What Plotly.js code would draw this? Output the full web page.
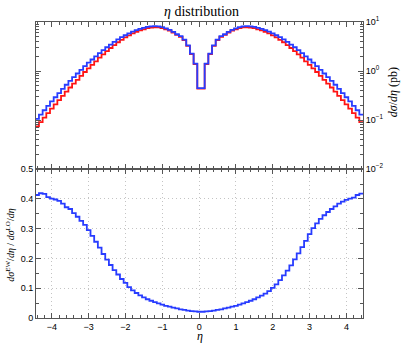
<!DOCTYPE html>
<html>
<head>
<meta charset="utf-8">
<script src="https://cdn.plot.ly/plotly-3.0.1.min.js"></script>
<style>
  html, body { margin: 0; padding: 0; background: #fff; }
  #chart { width: 403px; height: 343px; }
</style>
</head>
<body>
<div id="chart"></div>
<script>
// bins: 0.1 wide, centres -4.4 ... 4.4
const etaFirstEdge = -4.45;
const binWidth = 0.1;

// dsigma/deta LO (pb), one value per bin, left to right
const sigmaLO = [
  0.0746, 0.0908, 0.1121, 0.1384, 0.1709, 0.2087, 0.2551, 0.3118, 0.3815, 0.4615,
  0.553, 0.663, 0.795, 0.955, 1.136, 1.34, 1.58, 1.87, 2.18, 2.55,
  2.95, 3.39, 3.86, 4.34, 4.84, 5.36, 5.87, 6.33, 6.74, 7.10,
  7.47, 7.68, 7.81, 7.75, 7.52, 7.12, 6.66, 6.10, 5.45, 4.99,
  4.25, 3.27, 2.22, 1.39, 0.438,
  0.438, 1.39, 2.22, 3.27, 4.25, 4.99, 5.45, 6.10, 6.66, 7.12,
  7.52, 7.75, 7.81, 7.68, 7.47, 7.10, 6.74, 6.33, 5.87, 5.36,
  4.84, 4.34, 3.86, 3.39, 2.95, 2.55, 2.18, 1.87, 1.58, 1.34,
  1.136, 0.955, 0.795, 0.663, 0.553, 0.4615, 0.3815, 0.3118, 0.2551, 0.2087,
  0.1709, 0.1384, 0.1121, 0.0908
];

// dsigma/deta LO + EW (pb)
const sigmaEW = [
  0.106, 0.129, 0.1585, 0.195, 0.240, 0.292, 0.355, 0.432, 0.525, 0.631,
  0.750, 0.891, 1.059, 1.259, 1.479, 1.718, 1.995, 2.317, 2.661, 3.055,
  3.467, 3.936, 4.416, 4.898, 5.370, 5.888, 6.383, 6.839, 7.244, 7.586,
  7.943, 8.128, 8.222, 8.128, 7.852, 7.413, 6.918, 6.310, 5.623, 5.129,
  4.365, 3.350, 2.270, 1.422, 0.447,
  0.447, 1.422, 2.270, 3.350, 4.365, 5.129, 5.623, 6.310, 6.918, 7.413,
  7.852, 8.128, 8.222, 8.128, 7.943, 7.586, 7.244, 6.839, 6.383, 5.888,
  5.370, 4.898, 4.416, 3.936, 3.467, 3.055, 2.661, 2.317, 1.995, 1.718,
  1.479, 1.259, 1.059, 0.891, 0.750, 0.631, 0.525, 0.432, 0.355, 0.292,
  0.240, 0.195, 0.1585, 0.129
];

// ratio EW / LO
const ratioEW = [
  0.413, 0.419, 0.417, 0.406, 0.401, 0.398, 0.393, 0.384, 0.372, 0.366,
  0.352, 0.340, 0.326, 0.313, 0.295, 0.276, 0.256, 0.236, 0.215, 0.196,
  0.178, 0.161, 0.146, 0.131, 0.118, 0.104, 0.093, 0.084, 0.076, 0.069,
  0.063, 0.058, 0.053, 0.049, 0.045, 0.041, 0.038, 0.035, 0.032, 0.029,
  0.027, 0.025, 0.023, 0.022, 0.021,
  0.021, 0.022, 0.023, 0.025, 0.027, 0.029, 0.032, 0.035, 0.038, 0.041,
  0.045, 0.049, 0.053, 0.058, 0.063, 0.069, 0.075, 0.082, 0.090, 0.101,
  0.113, 0.127, 0.143, 0.159, 0.177, 0.197, 0.217, 0.238, 0.259, 0.282,
  0.302, 0.318, 0.333, 0.345, 0.356, 0.366, 0.375, 0.384, 0.391, 0.397,
  0.401, 0.404, 0.413, 0.418
];

const xTicks = [-4, -3, -2, -1, 0, 1, 2, 3, 4];
const ratioTicks = [0, 0.1, 0.2, 0.3, 0.4, 0.5];
const ratioTickText = ['0', '0.1', '0.2', '0.3', '0.4', '0.5'];
const logTicks = [0.01, 0.1, 1, 10];
const logTickText = ['10<sup>−2</sup>', '10<sup>−1</sup>', '10<sup>0</sup>', '10<sup>1</sup>'];

const BLUE = 'rgb(40,60,255)';
const RED = 'rgb(255,20,20)';
const AXIS = '#555';
const GRID = '#c4c4c4';
const SERIF = 'Liberation Serif, Times New Roman, serif';

// histogram as hv steps over bin edges
function steps(vals) {
  const x = [], y = [];
  vals.forEach((v, i) => {
    x.push(+(etaFirstEdge + i * binWidth).toFixed(2));
    y.push(v);
  });
  x.push(+(etaFirstEdge + vals.length * binWidth).toFixed(2));
  y.push(vals[vals.length - 1]);
  return { x, y };
}

const minorLog = [];
[0.01, 0.1, 1].forEach(d => { for (let k = 2; k <= 9; k++) minorLog.push(d * k); });

const lo = steps(sigmaLO), ew = steps(sigmaEW), rt = steps(ratioEW);

const traces = [
  { x: lo.x, y: lo.y, xaxis: 'x2', yaxis: 'y2', mode: 'lines',
    line: { shape: 'hv', color: RED, width: 1.8 } },
  { x: ew.x, y: ew.y, xaxis: 'x2', yaxis: 'y2', mode: 'lines',
    line: { shape: 'hv', color: BLUE, width: 1.8 } },
  { x: rt.x, y: rt.y, xaxis: 'x', yaxis: 'y', mode: 'lines',
    line: { shape: 'hv', color: BLUE, width: 1.8 } }
];

const tickFont = { family: 'Liberation Sans, Arial, sans-serif', size: 9, color: '#000' };
const common = {
  showline: true, linecolor: AXIS, linewidth: 1, mirror: 'allticks',
  ticks: 'inside', ticklen: 5, tickcolor: AXIS, zeroline: false,
  tickfont: tickFont
};

const layout = {
  width: 403, height: 343,
  margin: { l: 36, r: 40, t: 22, b: 25 },
  paper_bgcolor: '#fff', plot_bgcolor: '#fff',
  showlegend: false,
  title: { text: '<i>η</i> distribution', x: 0.5, xanchor: 'center',
           y: 1 - 11 / 343, yanchor: 'middle',
           font: { family: SERIF, size: 14, color: '#000' } },
  xaxis: Object.assign({}, common, {
    anchor: 'y', domain: [0, 1], range: [-4.43, 4.45],
    tickvals: xTicks, showgrid: true, gridcolor: GRID, griddash: '1px,3px', gridwidth: 1,
    minor: { dtick: 0.2, ticks: 'inside', ticklen: 3, tickcolor: AXIS, showgrid: false }
  }),
  xaxis2: Object.assign({}, common, {
    anchor: 'y2', matches: 'x', showticklabels: false, showgrid: false,
    tickvals: xTicks,
    minor: { dtick: 0.2, ticks: 'inside', ticklen: 3, tickcolor: AXIS, showgrid: false }
  }),
  yaxis: Object.assign({}, common, {
    anchor: 'x', domain: [0, 0.503], range: [0, 0.5],
    tickvals: ratioTicks, ticktext: ratioTickText,
    showgrid: true, gridcolor: GRID, griddash: '1px,3px', gridwidth: 1,
    minor: { dtick: 0.05, ticks: 'inside', ticklen: 3, tickcolor: AXIS, showgrid: false }
  }),
  yaxis2: Object.assign({}, common, {
    anchor: 'x2', domain: [0.503, 1], type: 'log', range: [-2, 1], side: 'right',
    tickvals: logTicks, ticktext: logTickText, showgrid: false,
    minor: { tickvals: minorLog, ticks: 'inside', ticklen: 3, tickcolor: AXIS, showgrid: false }
  }),
  annotations: [
    { text: '<i>η</i>', xref: 'paper', yref: 'paper', x: 0.5, y: -0.06,
      showarrow: false, xanchor: 'center', yanchor: 'middle',
      font: { family: SERIF, size: 12, color: '#000' } },
    { text: '<i>dσ</i><sup>EW</sup>/<i>dη</i> / <i>dσ</i><sup>LO</sup>/<i>dη</i>',
      xref: 'paper', yref: 'paper', x: -0.08, y: 0.247, textangle: -90,
      showarrow: false, xanchor: 'center', yanchor: 'middle',
      font: { family: SERIF, size: 10, color: '#000' } },
    { text: '<i>dσ</i>/<i>dη</i> (pb)',
      xref: 'paper', yref: 'paper', x: 1.092, y: 0.763, textangle: -90,
      showarrow: false, xanchor: 'center', yanchor: 'middle',
      font: { family: SERIF, size: 12, color: '#000' } }
  ]
};

Plotly.newPlot('chart', traces, layout, { displayModeBar: false, staticPlot: true });
</script>
</body>
</html>
